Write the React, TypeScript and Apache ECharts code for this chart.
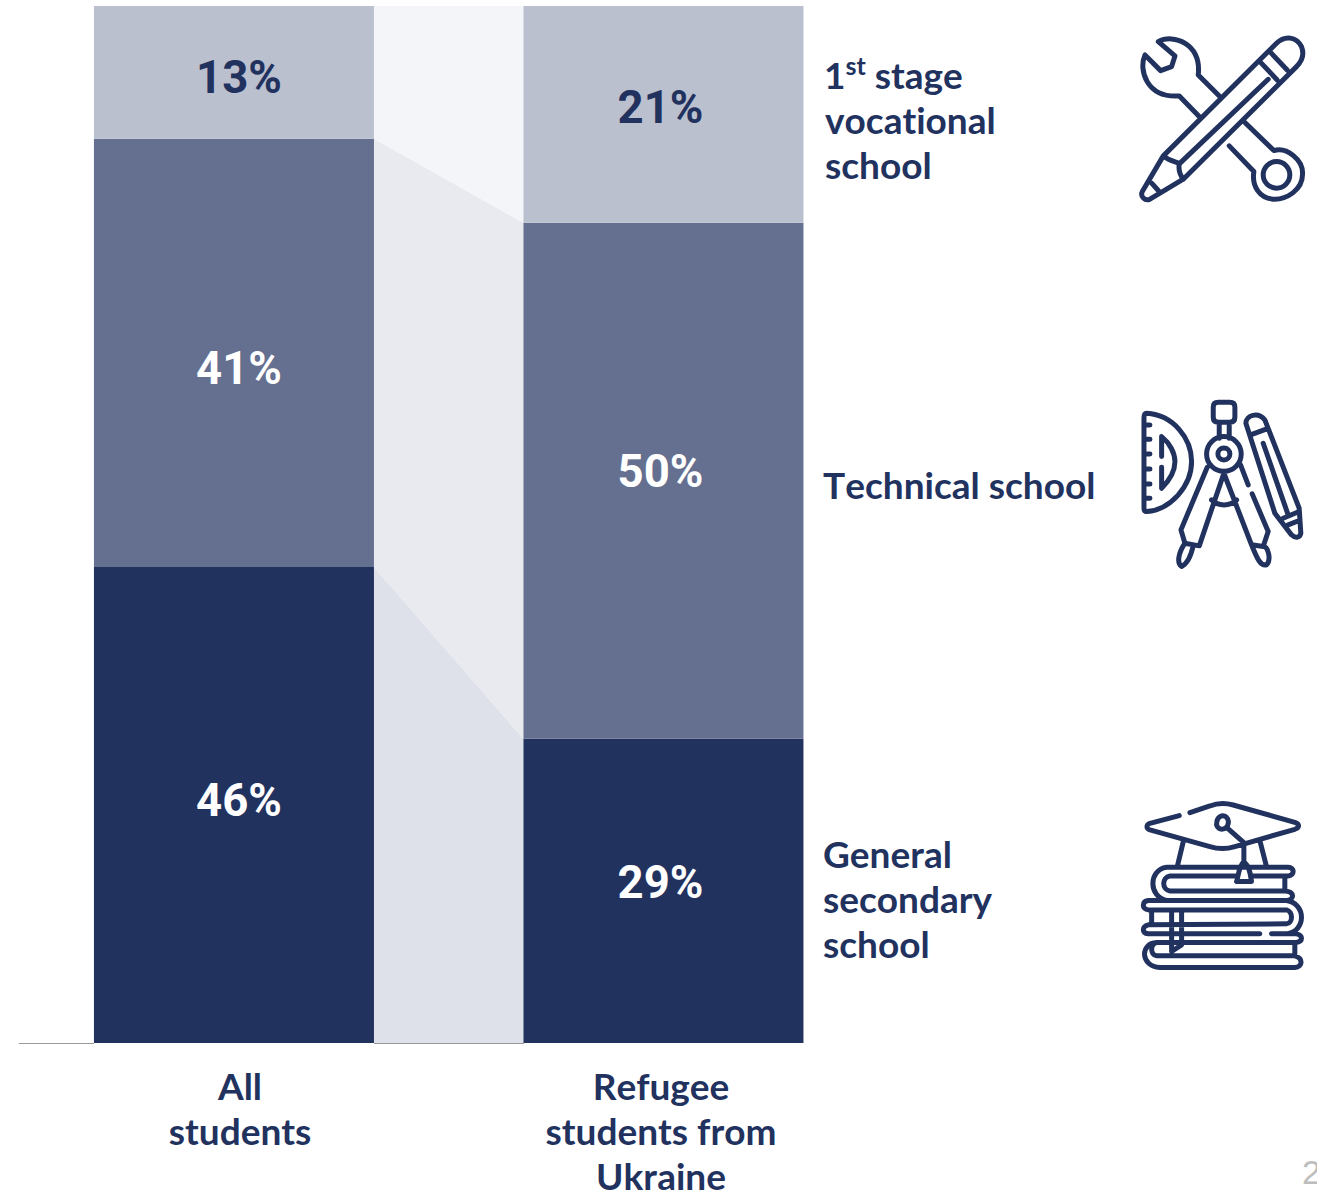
import React, { useEffect, useRef } from "react";
import * as echarts from "echarts";

const categories = ["All\nstudents", "Refugee\nstudents from\nUkraine"];
const generalSecondary = [45.9, 29.35];
const technical = [41.3, 49.75];
const vocational = [12.8, 20.9];
const seriesNames = ["General secondary school", "Technical school", "1st stage vocational school"];

const DARK = "#22325f";
const MID = "#656f8f";
const LIGHT = "#bbc0cf";
const BANDS = ["#dfe1ea", "#e9eaef", "#f4f5f8"];
const LABEL_DY = [[-5, -8], [16, -9], [5, -7]];
const LABEL_DX = [5, -3];

const ICON_TOOLS =
  "M115 65 L165 108 L155 140 L122 152 L75 105 C55 150 80 235 178 228 L243 295 " +
  "M115 65 C160 40 245 70 235 165 L302 232 " +
  "M372 305 L462 392 C500 380 552 420 548 465 C548 510 500 540 460 538 C420 535 395 500 402 455 L328 378 " +
  "M430 465 A40 40 0 1 0 510 465 A40 40 0 1 0 430 465 Z " +
  "M130 408 L470 70 C495 45 530 50 545 80 C555 105 545 125 530 140 L190 478 L90 538 C75 545 60 530 67 515 Z " +
  "M130 408 C150 425 170 425 178 432 C175 450 180 465 190 478 " +
  "M178 432 L445 178 " +
  "M420 125 L472 180 M450 95 L502 150 M95 490 L115 512";

const ICON_DRAWING =
  "M80 70 C160 75 215 145 215 215 C215 290 150 360 80 365 C72 365 72 360 72 350 L72 85 C72 72 75 70 80 70 Z " +
  "M72 105 L90 105 M72 148 L90 148 M72 192 L90 192 M72 237 L90 237 M72 282 L90 282 M72 325 L90 325 " +
  "M125 200 L125 140 C150 160 165 190 165 215 C165 245 150 270 125 295 L125 232 " +
  "M295 37 L330 37 C340 37 345 42 345 52 L345 82 C345 92 340 97 330 97 L295 97 C285 97 280 92 280 82 L280 52 C280 42 285 37 295 37 Z " +
  "M298 97 L298 145 M328 97 L328 145 " +
  "M260 192 A52 52 0 1 0 364 192 A52 52 0 1 0 260 192 Z M294 192 A18 18 0 1 0 330 192 A18 18 0 1 0 294 192 Z " +
  "M262 232 L183 420 L195 460 L238 468 L312 250 L395 465 L430 470 L445 425 L397 312 M362 225 L385 285 " +
  "M195 460 C175 490 170 520 185 530 C205 520 215 490 220 467 " +
  "M395 465 C410 500 420 530 440 525 C455 510 445 470 430 470 " +
  "M275 330 C295 350 330 350 350 330 " +
  "M378 100 C378 75 415 65 435 90 L538 355 L543 430 C540 445 525 445 515 435 L465 370 Z " +
  "M392 135 L445 115 M430 160 L505 375 M490 385 L538 365 M505 405 L538 392";

const ICON_BOOKS =
  "M178 77 L90 100 C78 105 78 115 90 120 L270 170 C295 178 320 178 345 170 L525 118 C540 112 540 102 525 97 L340 45 C310 37 290 40 270 48 L210 68 " +
  "M190 155 L172 230 M420 152 L440 230 " +
  "M300 80 C315 72 328 85 325 100 C322 120 295 125 290 105 C290 95 292 85 300 80 Z " +
  "M320 112 L372 158 L372 215 C355 230 355 265 350 275 L395 275 C392 255 390 230 372 215 " +
  "M140 232 L505 232 C525 232 525 258 505 258 L395 258 M350 258 L150 258 C125 262 125 300 150 303 L495 303 L495 258 " +
  "M140 232 C85 240 85 320 140 332 " +
  "M495 303 C525 305 525 330 500 332 L85 332 C65 335 65 358 85 360 L500 360 C520 365 520 400 500 402 L85 405 C65 410 65 430 85 432 L420 432 " +
  "M500 332 C560 340 560 425 500 432 L455 432 M500 432 L530 432 C550 436 550 455 530 458 L110 458 C90 462 90 495 110 498 L525 498 L525 458 " +
  "M525 498 C550 505 550 530 525 533 L120 533 C60 530 60 460 110 458 " +
  "M155 365 L155 485 L185 465 L185 365 M95 365 L95 405";

echarts.graphic.registerShape("iconTools", echarts.graphic.extendPath(ICON_TOOLS, {}));
echarts.graphic.registerShape("iconDrawing", echarts.graphic.extendPath(ICON_DRAWING, {}));
echarts.graphic.registerShape("iconBooks", echarts.graphic.extendPath(ICON_BOOKS, {}));

const LATO = "Lato";
const ROBOTO = "Roboto";

function barSeries(name: string, values: number[], color: string, labelColor: string, idx: number) {
  return {
    type: "bar",
    name,
    stack: "total",
    barWidth: 280,
    z: 3,
    itemStyle: { color },
    data: values.map((v, i) => ({
      value: v,
      label: { offset: [LABEL_DX[i], LABEL_DY[idx][i]] },
    })),
    label: {
      show: true,
      position: "inside",
      color: labelColor,
      fontFamily: ROBOTO,
      fontWeight: 700,
      fontSize: 45.5,
      formatter: (p: any) => `${Math.round(p.value)}%`,
    },
  };
}

const layers = [generalSecondary, technical, vocational];

function bandItem(params: any, api: any) {
  const idx = params.dataIndex;
  const lo0 = layers.slice(0, idx).reduce((s, l) => s + l[0], 0);
  const lo1 = layers.slice(0, idx).reduce((s, l) => s + l[1], 0);
  const hi0 = lo0 + layers[idx][0];
  const hi1 = lo1 + layers[idx][1];
  const half = 140;
  const a = api.coord([0, lo0]);
  const b = api.coord([0, hi0]);
  const c = api.coord([1, hi1]);
  const d = api.coord([1, lo1]);
  return {
    type: "polygon",
    shape: {
      points: [
        [a[0] + half, a[1]],
        [b[0] + half, b[1]],
        [c[0] - half, c[1]],
        [d[0] - half, d[1]],
      ],
    },
    style: { fill: BANDS[idx] },
  };
}

export default function App() {
  const ref = useRef<HTMLDivElement>(null);
  useEffect(() => {
    const chart = echarts.init(ref.current!, null, { renderer: "svg" });
    const sideText = { fill: DARK, fontFamily: LATO, fontWeight: 700, fontSize: 37, lineHeight: 45 };
    chart.setOption({
      animation: false,
      backgroundColor: "#ffffff",
      grid: [
        { left: 19.2, width: 859, top: 6, height: 1037, outerBoundsMode: "none" },
        { left: 29.5, width: 842, top: 6, height: 1037, outerBoundsMode: "none" },
      ],
      xAxis: [
        {
          type: "category",
          gridIndex: 0,
          data: categories,
          axisLine: { show: false },
          axisTick: { show: false },
          axisLabel: { show: false },
        },
        {
          type: "category",
          gridIndex: 1,
          data: categories,
          axisLine: { show: false },
          axisTick: { show: false },
          axisLabel: {
            margin: 20,
            color: DARK,
            fontFamily: LATO,
            fontWeight: 700,
            fontSize: 37,
            lineHeight: 45,
            interval: 0,
          },
        },
      ],
      yAxis: [
        { type: "value", gridIndex: 0, min: 0, max: 100, show: false },
        { type: "value", gridIndex: 1, min: 0, max: 100, show: false },
      ],
      series: [
        {
          type: "custom",
          coordinateSystem: "cartesian2d",
          renderItem: bandItem,
          z: 1,
          silent: true,
          data: [0, 1, 2],
          encode: { x: -1, y: -1 },
        },
        barSeries(seriesNames[0], generalSecondary, DARK, "#ffffff", 0),
        barSeries(seriesNames[1], technical, MID, "#ffffff", 1),
        barSeries(seriesNames[2], vocational, LIGHT, DARK, 2),
      ],
      graphic: [
        {
          type: "line",
          z: 5,
          shape: { x1: 19, y1: 1043.5, x2: 94, y2: 1043.5 },
          style: { stroke: "#999999", lineWidth: 1 },
        },
        {
          type: "line",
          z: 5,
          shape: { x1: 374, y1: 1043.5, x2: 524, y2: 1043.5 },
          style: { stroke: "#999999", lineWidth: 1 },
        },
        {
          type: "text",
          x: 824,
          y: 52,
          style: {
            text: "{n|1}{s|st}{n| stage}",
            rich: {
              n: { fill: DARK, fontFamily: LATO, fontWeight: 700, fontSize: 37, lineHeight: 45 },
              s: { fill: DARK, fontFamily: LATO, fontWeight: 700, fontSize: 25, lineHeight: 45, padding: [0, 0, 8, 0], verticalAlign: "top" },
            },
          },
        },
        { type: "text", x: 825, y: 97, style: { ...sideText, text: "vocational\nschool" } },
        { type: "text", x: 823, y: 462, style: { ...sideText, text: "Technical school" } },
        { type: "text", x: 823, y: 831, style: { ...sideText, text: "General\nsecondary\nschool" } },
        { type: "text", x: 1302, y: 1155, style: { text: "2", fill: "#bdbdbd", fontFamily: "Liberation Sans", fontSize: 34 } },
        ...[
          { type: "iconTools", x: 1120, y: 20 },
          { type: "iconDrawing", x: 1120, y: 390 },
          { type: "iconBooks", x: 1120, y: 790 },
        ].map((o) => ({
          ...o,
          scaleX: 1 / 3,
          scaleY: 1 / 3,
          style: { fill: "none", stroke: DARK, lineWidth: 15, lineCap: "round", lineJoin: "round" },
        })),
      ],
    });
    return () => chart.dispose();
  }, []);
  return <div ref={ref} style={{ position: "absolute", left: 0, top: 0, width: 1317, height: 1190, overflow: "hidden", fontVariantLigatures: "none", fontKerning: "none" }} />;
}
